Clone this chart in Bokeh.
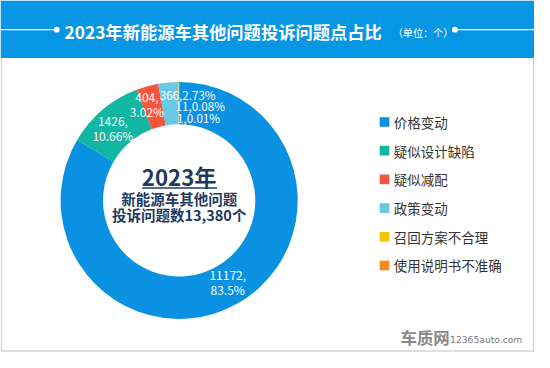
import math
from bokeh.plotting import figure
from bokeh.models import Range1d
from bokeh.core.properties import value
from bokeh.embed import file_html
from bokeh.resources import INLINE

# ---- data ----
categories = ["价格变动", "疑似设计缺陷", "疑似减配", "政策变动", "召回方案不合理", "使用说明书不准确"]
counts = [11172, 1426, 404, 366, 11, 1]
percents = ["83.5", "10.66", "3.02", "2.73", "0.08", "0.01"]
colors = ["#0a91e2", "#10b6a2", "#f6553f", "#69c8e3", "#f3c300", "#fb8a1e"]
title_text = "2023年新能源车其他问题投诉问题点占比"
unit_text = "（单位：个）"
center_year = "2023年"
center_line1 = "新能源车其他问题"
center_prefix = "投诉问题数"
center_suffix = "个"
two_line_labels = [True, True, True, False, False, False]
# per-label pixel nudges (layout only)
label_dx = [0, -3, -6, 18, 22, 20]
label_dy = [-2, 2, -3, -10, 2, 15]

FONT = value("Noto Sans CJK SC")
W, H = 534, 352
RW, RH = 550, 368
S = (W / RW + H / RH) / 2  # overall scale of the reference


def Y(ypix):
    return RH - ypix


def fs(px):
    return f"{px * S:.1f}px"


p = figure(width=W, height=H, output_backend="svg", toolbar_location=None,
           x_range=Range1d(0, RW), y_range=Range1d(0, RH),
           min_border=0, border_fill_color="white", background_fill_color="white")
p.axis.visible = False
p.grid.visible = False
p.outline_line_color = None

# header band
p.quad(left=[0], right=[RW], bottom=[Y(60)], top=[Y(0)], fill_color="#0796e4", line_color=None)
p.segment(x0=[0, 468], y0=[Y(30.5)] * 2, x1=[57, RW], y1=[Y(30.5)] * 2, line_color="white", line_width=1.2)
p.scatter(x=[58, 468], y=[Y(30.5)] * 2, size=6 * S, fill_color="white", line_color=None)
p.text(x=[66], y=[Y(32)], text=[title_text], text_font=FONT, text_font_size=fs(18),
       text_font_style="bold", text_color="white", text_baseline="middle", text_align="left")
p.text(x=[404], y=[Y(33)], text=[unit_text], text_font=FONT, text_font_size=fs(10.5),
       text_color="white", text_baseline="middle", text_align="left")

# panel frame
p.segment(x0=[1, 549, 0], y0=[Y(60), Y(60), Y(366.5)], x1=[1, 549, RW],
          y1=[Y(367), Y(367), Y(366.5)], line_color="#d4d4d4", line_width=1.5)

# donut
cx, cy = 184, Y(209)
r_in, r_out = 79 * S, 123 * S
total = sum(counts)
starts, ends, mids = [], [], []
cum = 0.0
for c in counts:
    a0 = cum / total
    cum += c
    a1 = cum / total
    starts.append(math.pi / 2 - 2 * math.pi * a0)
    ends.append(math.pi / 2 - 2 * math.pi * a1)
    mids.append(math.pi / 2 - math.pi * (a0 + a1))

p.annular_wedge(x=[cx] * len(counts), y=[cy] * len(counts), inner_radius=r_in, outer_radius=r_out,
                inner_radius_units="screen", outer_radius_units="screen",
                start_angle=starts, end_angle=ends, direction="clock",
                fill_color=colors, line_color=None)

# slice labels
r_mid = (79 + 123) / 2
for i, c in enumerate(counts):
    pct = percents[i]
    lx = cx + r_mid * math.cos(mids[i]) + label_dx[i]
    ly = cy + r_mid * math.sin(mids[i]) - label_dy[i]
    if two_line_labels[i]:
        p.text(x=[lx, lx], y=[ly + 7, ly - 7], text=[f"{c},", f"{pct}%"], text_font=FONT,
               text_font_size=fs(12.5), text_color="white", text_baseline="middle", text_align="center")
    else:
        p.text(x=[lx], y=[ly], text=[f"{c},{pct}%"], text_font=FONT,
               text_font_size=fs(12), text_color="white", text_baseline="middle", text_align="center")

# center text
navy = "#1f3a60"
p.text(x=[cx], y=[Y(183)], text=[center_year], text_font=FONT, text_font_size=fs(23),
       text_font_style="bold", text_color=navy, text_baseline="middle", text_align="center")
p.segment(x0=[146], y0=[Y(196)], x1=[223], y1=[Y(196)], line_color=navy, line_width=1.5)
p.text(x=[cx], y=[Y(207)], text=[center_line1], text_font=FONT, text_font_size=fs(15),
       text_font_style="bold", text_color=navy, text_baseline="middle", text_align="center")
p.text(x=[cx], y=[Y(224)], text=[f"{center_prefix}{total:,}{center_suffix}"], text_font=FONT,
       text_font_size=fs(15), text_font_style="bold", text_color=navy, text_baseline="middle",
       text_align="center")

# legend
leg_y = [Y(127 + 30 * i) for i in range(len(categories))]
p.scatter(x=[395.5] * len(categories), y=leg_y, marker="square", size=10 * S, fill_color=colors, line_color=None)
p.text(x=[405] * len(categories), y=leg_y, text=categories, text_font=FONT, text_font_size=fs(14),
       text_color="#333333", text_baseline="middle", text_align="left")

# watermark
p.text(x=[412], y=[Y(352)], text=["车质网"], text_font=FONT, text_font_size=fs(17),
       text_font_style="bold", text_color="#8a8a8a", text_baseline="middle", text_align="left")
p.text(x=[463], y=[Y(354)], text=["12365auto.com"], text_font=value("DejaVu Sans"), text_font_size=fs(9.5),
       text_color="#777777", text_baseline="middle", text_align="left")

open("out.html", "w").write(file_html(p, INLINE))
